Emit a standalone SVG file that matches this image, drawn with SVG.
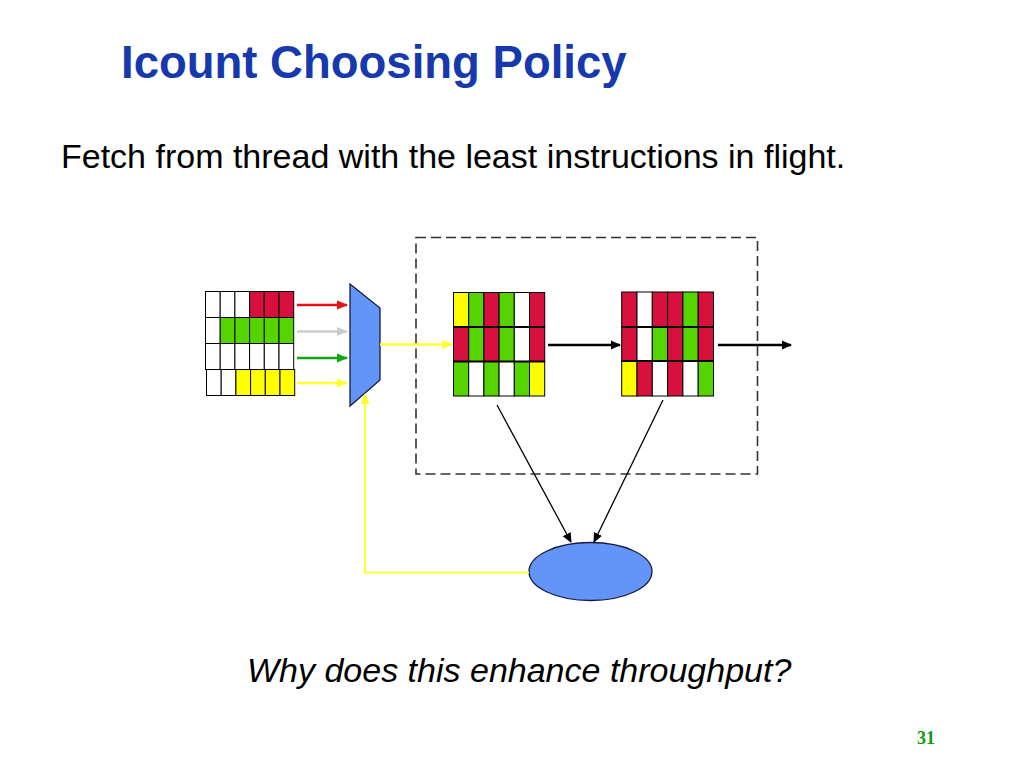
<svg xmlns="http://www.w3.org/2000/svg" width="1024" height="768" viewBox="0 0 1024 768">
<style>
.t{font-family:"Liberation Sans",Arial,sans-serif}
.c{stroke:#000;stroke-width:1}
.r{fill:#D8103E}.g{fill:#55D400}.y{fill:#FFFF00}.w{fill:#FFFFFF}
.sep{stroke:#000;stroke-width:2}
</style>
<defs>
<marker id="aR" markerWidth="11" markerHeight="10" refX="10" refY="5" orient="auto" markerUnits="userSpaceOnUse"><path d="M0,0.5 L11,5 L0,9.5 Z" fill="#E8101A"/></marker>
<marker id="aG" markerWidth="11" markerHeight="10" refX="10" refY="5" orient="auto" markerUnits="userSpaceOnUse"><path d="M0,0.5 L11,5 L0,9.5 Z" fill="#CCCCCC"/></marker>
<marker id="aN" markerWidth="11" markerHeight="10" refX="10" refY="5" orient="auto" markerUnits="userSpaceOnUse"><path d="M0,0.5 L11,5 L0,9.5 Z" fill="#13A813"/></marker>
<marker id="aY" markerWidth="11" markerHeight="10" refX="10" refY="5" orient="auto" markerUnits="userSpaceOnUse"><path d="M0,0.5 L11,5 L0,9.5 Z" fill="#FFFF33"/></marker>
<marker id="aK" markerWidth="10" markerHeight="10" refX="9" refY="5" orient="auto" markerUnits="userSpaceOnUse"><path d="M0,0.5 L10,5 L0,9.5 Z" fill="#000"/></marker>
</defs>
<rect width="1024" height="768" fill="#fff"/>
<text class="t" x="121" y="78" font-size="45.5" font-weight="bold" fill="#1639AE">Icount Choosing Policy</text>
<text class="t" x="61" y="168" font-size="34" fill="#000">Fetch from thread with the least instructions in flight.</text>
<text class="t" x="247" y="682" font-size="34" font-style="italic" fill="#000">Why does this enhance throughput?</text>
<text x="917" y="744" font-family="'Liberation Serif','Times New Roman',serif" font-size="18" font-weight="bold" fill="#119911">31</text>

<g id="pipeline-box">
<rect x="416" y="237.5" width="341.5" height="236.5" fill="none" stroke="#333" stroke-width="1.6" stroke-dasharray="10,5"/>
</g>

<g id="thread-queues">
<rect class="c w" x="205.5" y="291.5" width="14.7" height="26"/><rect class="c w" x="220.2" y="291.5" width="14.7" height="26"/><rect class="c w" x="234.9" y="291.5" width="14.7" height="26"/><rect class="c r" x="249.6" y="291.5" width="14.7" height="26"/><rect class="c r" x="264.3" y="291.5" width="14.7" height="26"/><rect class="c r" x="279" y="291.5" width="14.7" height="26"/>
<rect class="c w" x="205.5" y="317.5" width="14.7" height="26"/><rect class="c g" x="220.2" y="317.5" width="14.7" height="26"/><rect class="c g" x="234.9" y="317.5" width="14.7" height="26"/><rect class="c g" x="249.6" y="317.5" width="14.7" height="26"/><rect class="c g" x="264.3" y="317.5" width="14.7" height="26"/><rect class="c g" x="279" y="317.5" width="14.7" height="26"/>
<rect class="c w" x="205.5" y="343.5" width="14.7" height="26"/><rect class="c w" x="220.2" y="343.5" width="14.7" height="26"/><rect class="c w" x="234.9" y="343.5" width="14.7" height="26"/><rect class="c w" x="249.6" y="343.5" width="14.7" height="26"/><rect class="c w" x="264.3" y="343.5" width="14.7" height="26"/><rect class="c w" x="279" y="343.5" width="14.7" height="26"/>
<rect class="c w" x="206.5" y="369.5" width="14.7" height="26"/><rect class="c w" x="221.2" y="369.5" width="14.7" height="26"/><rect class="c y" x="235.9" y="369.5" width="14.7" height="26"/><rect class="c y" x="250.6" y="369.5" width="14.7" height="26"/><rect class="c y" x="265.3" y="369.5" width="14.7" height="26"/><rect class="c y" x="280" y="369.5" width="14.7" height="26"/>
</g>

<g id="mux">
<polygon points="350,284 380,308 380,380 350,406" fill="#6394F7" stroke="#1a1a40" stroke-width="1.3"/>
</g>

<g id="stage1">
<rect class="c y" x="453.5" y="292.5" width="15.2" height="34.5"/><rect class="c g" x="468.7" y="292.5" width="15.2" height="34.5"/><rect class="c r" x="483.9" y="292.5" width="15.2" height="34.5"/><rect class="c g" x="499.1" y="292.5" width="15.2" height="34.5"/><rect class="c w" x="514.3" y="292.5" width="15.2" height="34.5"/><rect class="c r" x="529.5" y="292.5" width="15.2" height="34.5"/>
<rect class="c r" x="453.5" y="327" width="15.2" height="34.5"/><rect class="c g" x="468.7" y="327" width="15.2" height="34.5"/><rect class="c r" x="483.9" y="327" width="15.2" height="34.5"/><rect class="c g" x="499.1" y="327" width="15.2" height="34.5"/><rect class="c w" x="514.3" y="327" width="15.2" height="34.5"/><rect class="c r" x="529.5" y="327" width="15.2" height="34.5"/>
<rect class="c g" x="453.5" y="361.5" width="15.2" height="34.5"/><rect class="c w" x="468.7" y="361.5" width="15.2" height="34.5"/><rect class="c g" x="483.9" y="361.5" width="15.2" height="34.5"/><rect class="c w" x="499.1" y="361.5" width="15.2" height="34.5"/><rect class="c g" x="514.3" y="361.5" width="15.2" height="34.5"/><rect class="c y" x="529.5" y="361.5" width="15.2" height="34.5"/>
<line class="sep" x1="453.5" y1="327" x2="544.7" y2="327"/><line class="sep" x1="453.5" y1="361.5" x2="544.7" y2="361.5"/>
</g>

<g id="stage2">
<rect class="c r" x="621.7" y="292" width="15.3" height="35"/><rect class="c w" x="637" y="292" width="15.3" height="35"/><rect class="c r" x="652.3" y="292" width="15.3" height="35"/><rect class="c r" x="667.6" y="292" width="15.3" height="35"/><rect class="c g" x="682.9" y="292" width="15.3" height="35"/><rect class="c r" x="698.2" y="292" width="15.3" height="35"/>
<rect class="c r" x="621.7" y="327" width="15.3" height="34"/><rect class="c w" x="637" y="327" width="15.3" height="34"/><rect class="c g" x="652.3" y="327" width="15.3" height="34"/><rect class="c r" x="667.6" y="327" width="15.3" height="34"/><rect class="c g" x="682.9" y="327" width="15.3" height="34"/><rect class="c r" x="698.2" y="327" width="15.3" height="34"/>
<rect class="c y" x="621.7" y="361" width="15.3" height="35"/><rect class="c r" x="637" y="361" width="15.3" height="35"/><rect class="c w" x="652.3" y="361" width="15.3" height="35"/><rect class="c r" x="667.6" y="361" width="15.3" height="35"/><rect class="c w" x="682.9" y="361" width="15.3" height="35"/><rect class="c g" x="698.2" y="361" width="15.3" height="35"/>
<line class="sep" x1="621.7" y1="327" x2="713.5" y2="327"/><line class="sep" x1="621.7" y1="361" x2="713.5" y2="361"/>
</g>

<g id="counter">
<ellipse cx="590.5" cy="571.5" rx="61.5" ry="29" fill="#6394F7" stroke="#1a1a40" stroke-width="1.3"/>
</g>

<g id="connectors" fill="none">
<line x1="297" y1="305" x2="347" y2="305" stroke="#E8101A" stroke-width="2.5" marker-end="url(#aR)"/>
<line x1="297" y1="331.5" x2="347" y2="331.5" stroke="#CCCCCC" stroke-width="2.5" marker-end="url(#aG)"/>
<line x1="297" y1="358" x2="347" y2="358" stroke="#13A813" stroke-width="2.5" marker-end="url(#aN)"/>
<line x1="297" y1="383" x2="347" y2="383" stroke="#FFFF33" stroke-width="2.5" marker-end="url(#aY)"/>
<line x1="380" y1="344.5" x2="452" y2="344.5" stroke="#FFFF33" stroke-width="2.5" marker-end="url(#aY)"/>
<line x1="548" y1="345" x2="620" y2="345" stroke="#000" stroke-width="2.5" marker-end="url(#aK)"/>
<line x1="718" y1="345" x2="791" y2="345" stroke="#000" stroke-width="2.5" marker-end="url(#aK)"/>
<line x1="497" y1="405" x2="571" y2="542" stroke="#000" stroke-width="1.3" marker-end="url(#aK)"/>
<line x1="663" y1="400" x2="594" y2="542" stroke="#000" stroke-width="1.3" marker-end="url(#aK)"/>
<polyline points="529,572.5 365,572.5 365,394" stroke="#FFFF33" stroke-width="2" marker-end="url(#aY)"/>
</g>
</svg>
